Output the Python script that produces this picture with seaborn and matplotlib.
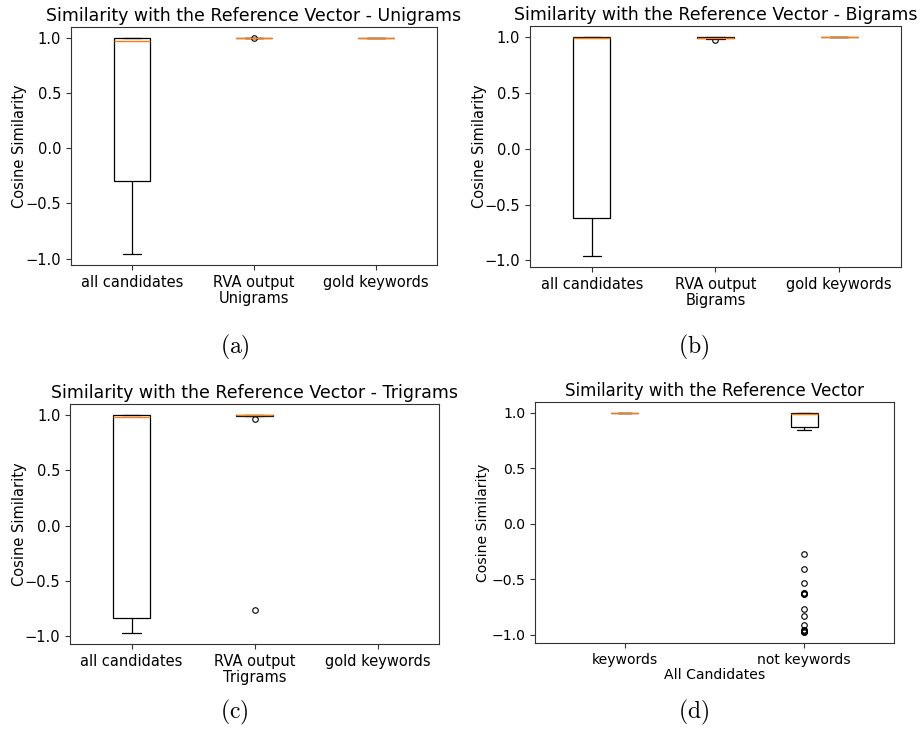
"""
Boxplots of cosine similarity with the reference vector (unigrams, bigrams,
trigrams and all candidates), laid out as four captioned sub-figures.
"""
import numpy as np
import pandas as pd
import matplotlib
matplotlib.use("Agg")
import matplotlib.pyplot as plt
import seaborn as sns

# ---- data (one short list per box) ----
GROUPS_3 = ["all candidates", "RVA output", "gold keywords"]
GROUPS_D = ["keywords", "not keywords"]

uni_all = [-0.96, -0.50, -0.30, 0.50, 0.975, 0.99, 0.995, 1.0, 1.0]
uni_rva = [0.995, 1.0, 1.0, 1.0, 1.0, 1.0, 1.0, 1.0, 1.0]
uni_gold = [1.0, 1.0, 1.0, 1.0, 1.0]

bi_all = [-0.96, -0.80, -0.62, 0.50, 0.99, 0.995, 1.0, 1.0, 1.0]
bi_rva = [0.97, 0.985, 0.99, 0.993, 0.995, 0.997, 1.0, 1.0, 1.0]
bi_gold = [1.0, 1.0, 1.0, 1.0, 1.0]

tri_all = [-0.97, -0.90, -0.83, 0.50, 0.98, 0.99, 0.995, 1.0, 1.0]
tri_rva = [-0.757, 0.965, 0.99, 0.995, 0.997, 0.998, 1.0, 1.0, 1.0]
tri_gold = []

kw_values = [1.0, 1.0, 1.0, 1.0, 1.0]
# non-keywords: distinct values and how often each occurs
notkw_values = [-0.976, -0.97, -0.962, -0.917, -0.832, -0.766, -0.634, -0.625,
                -0.535, -0.412, -0.268, 0.845, 0.875, 0.95, 0.995, 0.998, 1.0]
notkw_counts = [2, 1, 2, 1, 1, 1, 2, 2, 1, 1, 1, 1, 1, 15, 1, 15, 17]

MEDIAN_COLOR = "#ff7f0e"

sns.set_theme(style="ticks")
plt.rcParams["font.family"] = ["DejaVu Sans"]
plt.rcParams["axes.unicode_minus"] = True
plt.rcParams["axes.edgecolor"] = "#333333"
plt.rcParams["axes.linewidth"] = 0.8
plt.rcParams["xtick.color"] = "#333333"
plt.rcParams["ytick.color"] = "#333333"
plt.rcParams["xtick.labelcolor"] = "black"
plt.rcParams["ytick.labelcolor"] = "black"
plt.rcParams["text.color"] = "black"
plt.rcParams["axes.labelcolor"] = "black"


def long_form(groups, series):
    rows = []
    for g, vals in zip(groups, series):
        for v in vals:
            rows.append((g, v))
    return pd.DataFrame(rows, columns=["group", "value"])


def draw_box(ax, df, order, width, title, xlabel, ylab_x, scale=1.0):
    sns.boxplot(data=df, x="group", y="value", order=order, ax=ax,
                width=width, linecolor="black", linewidth=0.9,
                boxprops={"facecolor": "white", "edgecolor": "black"},
                medianprops={"color": MEDIAN_COLOR, "linewidth": 1.0},
                flierprops={"marker": "o", "markerfacecolor": "none",
                            "markeredgecolor": "black", "markersize": 4,
                            "markeredgewidth": 0.8})
    ax.set_title(title, fontsize=12.5 * scale, pad=4)
    ax.set_xlabel(xlabel, fontsize=10.5 * scale, labelpad=1)
    ax.set_ylabel("Cosine Similarity", fontsize=10.5 * scale)
    ax.yaxis.set_label_coords(ylab_x, 0.5)
    ax.set_yticks([-1.0, -0.5, 0.0, 0.5, 1.0])
    ax.tick_params(labelsize=10.5 * scale, length=3.5, width=0.8)


fig = plt.figure(figsize=(9.24, 7.41), dpi=100)

ax_a = fig.add_axes([0.0768, 0.6424, 0.396, 0.3212])
ax_b = fig.add_axes([0.5736, 0.6397, 0.4015, 0.3252])
ax_c = fig.add_axes([0.0758, 0.1309, 0.3994, 0.3239])
ax_d = fig.add_axes([0.5790, 0.1323, 0.3885, 0.3252])

draw_box(ax_a, long_form(GROUPS_3, [uni_all, uni_rva, uni_gold]), GROUPS_3, 0.3,
         "Similarity with the Reference Vector - Unigrams", "Unigrams", -0.120)
draw_box(ax_b, long_form(GROUPS_3, [bi_all, bi_rva, bi_gold]), GROUPS_3, 0.3,
         "Similarity with the Reference Vector - Bigrams", "Bigrams", -0.117)
draw_box(ax_c, long_form(GROUPS_3, [tri_all, tri_rva, tri_gold]), GROUPS_3, 0.3,
         "Similarity with the Reference Vector - Trigrams", "Trigrams", -0.116)
notkw = np.repeat(notkw_values, notkw_counts)
draw_box(ax_d, long_form(GROUPS_D, [kw_values, notkw]), GROUPS_D, 0.15,
         "Similarity with the Reference Vector", "All Candidates", -0.125,
         scale=0.96)

# sub-figure captions in a LaTeX-like serif
for x, y, lab in [(0.254, 0.531, "(a)"), (0.751, 0.531, "(b)"),
                  (0.254, 0.039, "(c)"), (0.751, 0.039, "(d)")]:
    fig.text(x, y, r"$\mathrm{" + lab + "}$", fontsize=17,
             math_fontfamily="cm", ha="center", va="center")

fig.savefig("out.png", dpi=100)
